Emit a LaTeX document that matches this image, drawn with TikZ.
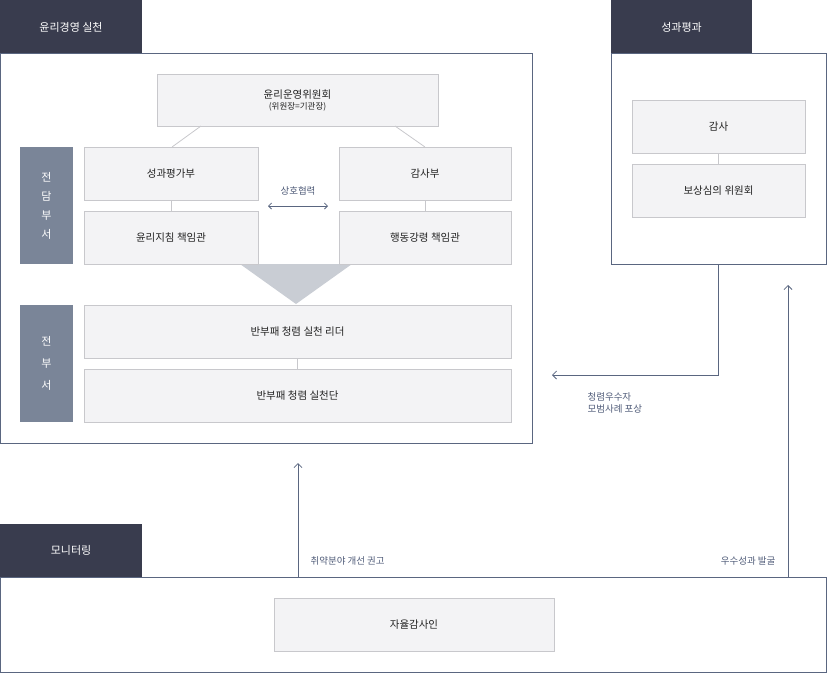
\documentclass[tikz,border=0pt]{standalone}
\usepackage{fontspec}
\setmainfont{Noto Sans CJK KR}
\usetikzlibrary{arrows.meta}
\definecolor{tabc}{HTML}{393C4E}
\definecolor{framec}{HTML}{5A6680}
\definecolor{boxf}{HTML}{F3F3F5}
\definecolor{boxd}{HTML}{C8C8CC}
\definecolor{sidec}{HTML}{7A8598}
\definecolor{tri}{HTML}{C9CDD4}
\definecolor{txt}{HTML}{222222}
\definecolor{lab}{HTML}{4F5B78}
\tikzset{
 tab/.style={fill=tabc,draw=none,text=white,font=\fontsize{11}{13}\selectfont},
 frame/.style={draw=framec,line width=0.8pt},
 bx/.style={fill=boxf,draw=boxd,line width=0.6pt},
 btxt/.style={text=txt,font=\fontsize{10.5}{13}\selectfont},
 side/.style={fill=sidec,draw=none},
 conn/.style={draw=boxd,line width=0.8pt},
 arr/.style={draw=framec,line width=0.8pt,-{Straight Barb[length=4pt,width=8pt]}},
 lbl/.style={text=lab,font=\fontsize{9.5}{12}\selectfont}
}
\begin{document}
\begin{tikzpicture}[x=1pt,y=-1pt]
\useasboundingbox (0,0) rectangle (828,673);
% tabs and frames
\draw[frame] (0.5,53) rectangle (532,443);
\draw[frame] (611,53) rectangle (826,264);
\draw[frame] (0.5,577) rectangle (826,672);
\fill[tabc] (0,0) rectangle (142,53);
\node[tab] (t1) at (71,27) {윤리경영 실천};
\fill[tabc] (611,0) rectangle (752,53);
\node[tab] (t2) at (681.5,27) {성과평과};
\fill[tabc] (0,524) rectangle (142,577);
\node[tab] (t3) at (71,550) {모니터링};
% triangle
\fill[tri] (240,264) -- (352,264) -- (296,304) -- cycle;
% boxes
\draw[bx] (157,74) rectangle (438,126);
\node[btxt,align=center] (top) at (297.5,100) {윤리운영위원회\\[-2pt]{\fontsize{8.5}{10}\selectfont (위원장=기관장)}};
\draw[bx] (84,147) rectangle (258,200); \node[btxt] (a1) at (171,173.5) {성과평가부};
\draw[bx] (84,211) rectangle (258,264); \node[btxt] (a2) at (171,237.5) {윤리지침 책임관};
\draw[bx] (339,147) rectangle (511,200); \node[btxt] (b1) at (425,173.5) {감사부};
\draw[bx] (339,211) rectangle (511,264); \node[btxt] (b2) at (425,237.5) {행동강령 책임관};
\draw[bx] (84,305) rectangle (511,358); \node[btxt] (c1) at (297.5,331.5) {반부패 청렴 실천 리더};
\draw[bx] (84,369) rectangle (511,422); \node[btxt] (c2) at (297.5,395.5) {반부패 청렴 실천단};
\draw[bx] (632,100) rectangle (805,153); \node[btxt] (d1) at (718.5,126.5) {감사};
\draw[bx] (632,164) rectangle (805,217); \node[btxt] (d2) at (718.5,190.5) {보상심의 위원회};
\draw[bx] (274,598) rectangle (554,651); \node[btxt] (e1) at (414,624.5) {자율감사인};
% side bars
\fill[side] (20,147) rectangle (73,264);
\node[text=white,align=center,font=\fontsize{11}{19}\selectfont] (s1) at (46.5,205.5) {전\\담\\부\\서};
\fill[side] (20,305) rectangle (73,422);
\node[text=white,align=center,font=\fontsize{11}{22}\selectfont] (s2) at (46.5,363.5) {전\\부\\서};
% connectors
\draw[conn] (201,126) -- (172,147);
\draw[conn] (395,126) -- (425,147);
\draw[conn] (171,200) -- (171,211);
\draw[conn] (425,200) -- (425,211);
\draw[conn] (297.5,358) -- (297.5,369);
\draw[conn] (718.5,153) -- (718.5,164);
\node[lbl] (co) at (298,191) {상호협력};
\draw[draw=framec,line width=0.8pt,{Straight Barb[length=3pt,width=6pt]}-{Straight Barb[length=3pt,width=6pt]}] (268,206) -- (328,206);
% arrows
\coordinate (p1) at (718,264);
\coordinate (p2) at (552,375);
\draw[arr] (p1) |- (p2);
\node[lbl,anchor=west,align=left] (l1) at (584,403) {청렴우수자\\모범사례 포상};
\coordinate (q1) at (788,577);
\coordinate (q2) at (788,285);
\draw[arr] (q1) -- (q2);
\node[lbl,anchor=east] (l2) at (779,561) {우수성과 발굴};
\coordinate (r1) at (298,577);
\coordinate (r2) at (298,463);
\draw[arr] (r1) -- (r2);
\node[lbl,anchor=west] (l3) at (307,561) {취약분야 개선 권고};
\end{tikzpicture}
\end{document}
